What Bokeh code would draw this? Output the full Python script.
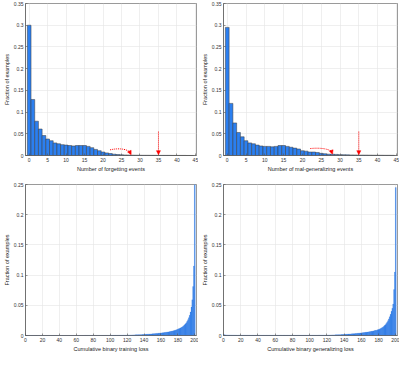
from bokeh.plotting import figure
from bokeh.layouts import gridplot
from bokeh.models import Arrow, NormalHead, FixedTicker, Range1d
from bokeh.embed import file_html
from bokeh.resources import INLINE

# ---------------- data ----------------
events = list(range(45))
forgetting = [0.300, 0.129, 0.079, 0.061, 0.046, 0.038, 0.034, 0.029, 0.027, 0.025,
              0.024, 0.023, 0.022, 0.023, 0.023, 0.023, 0.021, 0.018, 0.014, 0.011,
              0.008, 0.006, 0.0045, 0.003, 0.0022, 0.0016, 0.0012, 0.001, 0.0008, 0.0007,
              0.0006, 0.0005, 0.0005, 0.0004, 0.0004, 0.0004, 0.0003, 0.0003, 0.0003, 0.0002,
              0.0002, 0.0002, 0.0002, 0.0001, 0.0001]
malgen = [0.295, 0.120, 0.075, 0.053, 0.043, 0.034, 0.029, 0.027, 0.024, 0.022,
          0.021, 0.021, 0.020, 0.021, 0.023, 0.023, 0.021, 0.019, 0.017, 0.015,
          0.011, 0.010, 0.008, 0.008, 0.007, 0.005, 0.004, 0.003, 0.003, 0.0025,
          0.002, 0.0018, 0.0015, 0.0013, 0.0012, 0.001, 0.001, 0.0009, 0.0008, 0.0007,
          0.0006, 0.0006, 0.0005, 0.0005, 0.0004]

loss_bins = list(range(201))
train_loss = [
    0.0001, 0.0001, 0.0001, 0.0001, 0.0001, 0.0001, 0.0001, 0.0001, 0.0001, 0.0001,
    0.0001, 0.0001, 0.0001, 0.0001, 0.0001, 0.0001, 0.0001, 0.0001, 0.0001, 0.0001,
    0.0001, 0.0001, 0.0001, 0.0001, 0.0001, 0.0001, 0.0001, 0.0001, 0.0001, 0.0001,
    0.0001, 0.0001, 0.0001, 0.0001, 0.0001, 0.0001, 0.0001, 0.0001, 0.0001, 0.0001,
    0.0001, 0.0001, 0.0001, 0.0001, 0.0001, 0.0001, 0.0001, 0.0001, 0.0001, 0.0001,
    0.0001, 0.0001, 0.0001, 0.0001, 0.0001, 0.0001, 0.0001, 0.0001, 0.0001, 0.0001,
    0.0001, 0.0001, 0.0001, 0.0001, 0.0001, 0.0001, 0.0001, 0.0001, 0.0001, 0.0001,
    0.0002, 0.0002, 0.0002, 0.0002, 0.0002, 0.0002, 0.0002, 0.0002, 0.0002, 0.0002,
    0.0002, 0.0002, 0.0002, 0.0002, 0.0002, 0.0002, 0.0002, 0.0002, 0.0002, 0.0002,
    0.0002, 0.0002, 0.0002, 0.0002, 0.0002, 0.0002, 0.0002, 0.0002, 0.0002, 0.0002,
    0.0003, 0.0003, 0.0003, 0.0003, 0.0003, 0.0003, 0.0003, 0.0003, 0.0003, 0.0003,
    0.0004, 0.0004, 0.0004, 0.0004, 0.0004, 0.0005, 0.0005, 0.0005, 0.0005, 0.0005,
    0.0006, 0.0006, 0.0007, 0.0007, 0.0008, 0.0008, 0.0009, 0.0009, 0.0010, 0.0010,
    0.0011, 0.0011, 0.0012, 0.0012, 0.0013, 0.0013, 0.0014, 0.0014, 0.0015, 0.0016,
    0.0017, 0.0018, 0.0019, 0.0020, 0.0021, 0.0022, 0.0023, 0.0024, 0.0025, 0.0026,
    0.0027, 0.0028, 0.0030, 0.0031, 0.0032, 0.0034, 0.0035, 0.0037, 0.0038, 0.0040,
    0.0042, 0.0043, 0.0045, 0.0047, 0.0049, 0.0051, 0.0053, 0.0055, 0.0058, 0.0060,
    0.0063, 0.0066, 0.0069, 0.0072, 0.0076, 0.0080, 0.0084, 0.0088, 0.0093, 0.0098,
    0.0104, 0.0110, 0.0117, 0.0124, 0.0132, 0.0141, 0.0151, 0.0163, 0.0177, 0.0193,
    0.0212, 0.0235, 0.0262, 0.0295, 0.0335, 0.0390, 0.0470, 0.0590, 0.0810, 0.1150,
    0.2600]
gen_loss = [
    0.0015, 0.0012, 0.0010, 0.0009, 0.0008, 0.0008, 0.0007, 0.0007, 0.0006, 0.0006,
    0.0006, 0.0005, 0.0005, 0.0005, 0.0005, 0.0005, 0.0004, 0.0004, 0.0004, 0.0004,
    0.0004, 0.0004, 0.0004, 0.0004, 0.0004, 0.0004, 0.0004, 0.0004, 0.0004, 0.0004,
    0.0003, 0.0003, 0.0003, 0.0003, 0.0003, 0.0003, 0.0003, 0.0003, 0.0003, 0.0003,
    0.0003, 0.0003, 0.0003, 0.0003, 0.0003, 0.0003, 0.0003, 0.0003, 0.0003, 0.0003,
    0.0003, 0.0003, 0.0003, 0.0003, 0.0003, 0.0003, 0.0003, 0.0003, 0.0003, 0.0003,
    0.0003, 0.0003, 0.0003, 0.0003, 0.0003, 0.0003, 0.0003, 0.0003, 0.0003, 0.0003,
    0.0003, 0.0003, 0.0003, 0.0003, 0.0003, 0.0003, 0.0003, 0.0003, 0.0003, 0.0003,
    0.0003, 0.0003, 0.0003, 0.0003, 0.0003, 0.0003, 0.0003, 0.0003, 0.0003, 0.0003,
    0.0003, 0.0003, 0.0003, 0.0003, 0.0003, 0.0003, 0.0003, 0.0003, 0.0003, 0.0003,
    0.0004, 0.0004, 0.0004, 0.0004, 0.0004, 0.0004, 0.0004, 0.0004, 0.0004, 0.0004,
    0.0005, 0.0005, 0.0005, 0.0005, 0.0005, 0.0005, 0.0005, 0.0005, 0.0005, 0.0005,
    0.0006, 0.0006, 0.0007, 0.0007, 0.0008, 0.0008, 0.0009, 0.0009, 0.0010, 0.0010,
    0.0011, 0.0011, 0.0012, 0.0012, 0.0013, 0.0013, 0.0014, 0.0015, 0.0016, 0.0017,
    0.0018, 0.0019, 0.0020, 0.0021, 0.0022, 0.0023, 0.0024, 0.0025, 0.0026, 0.0027,
    0.0028, 0.0029, 0.0030, 0.0032, 0.0033, 0.0035, 0.0036, 0.0038, 0.0039, 0.0041,
    0.0043, 0.0044, 0.0046, 0.0048, 0.0050, 0.0052, 0.0054, 0.0056, 0.0058, 0.0061,
    0.0064, 0.0066, 0.0069, 0.0072, 0.0075, 0.0078, 0.0085, 0.0083, 0.0088, 0.0094,
    0.0100, 0.0105, 0.0112, 0.0120, 0.0128, 0.0138, 0.0150, 0.0165, 0.0180, 0.0200,
    0.0220, 0.0245, 0.0275, 0.0310, 0.0350, 0.0400, 0.0450, 0.0520, 0.0760, 0.1050,
    0.2450]

event_xticks = [0, 5, 10, 15, 20, 25, 30, 35, 40, 45]
event_yticks = [0, 0.05, 0.1, 0.15, 0.2, 0.25, 0.3, 0.35]
event_ylabels = ["0", "0.05", "0.1", "0.15", "0.2", "0.25", "0.3", "0.35"]
loss_xticks = [0, 20, 40, 60, 80, 100, 120, 140, 160, 180, 200]
loss_yticks = [0, 0.05, 0.1, 0.15, 0.2, 0.25]
loss_ylabels = ["0", "0.05", "0.1", "0.15", "0.2", "0.25"]

# annotation arrows (curved then vertical), per top panel
curve_forget = dict(x0=21.9, y0=0.013, cx0=25.0, cy0=0.019, cx1=27.0, cy1=0.012, x1=27.3, y1=0.007)
curve_malgen = dict(x0=22.1, y0=0.016, cx0=25.5, cy0=0.019, cx1=27.5, cy1=0.013, x1=27.8, y1=0.008)
head_end = {"forget": (27.6, 0.002), "malgen": (28.0, 0.003)}
vert_arrow = dict(x=35, y_top=0.055, y_bottom=0.002)

BLUE = "#2b7ff0"
FONT = "Liberation Sans"


def style(p, xticks, yticks, ylabels, xlabel):
    p.xaxis.ticker = FixedTicker(ticks=xticks)
    p.yaxis.ticker = FixedTicker(ticks=yticks)
    p.yaxis.major_label_overrides = {t: l for t, l in zip(yticks, ylabels)}
    p.xaxis.axis_label = xlabel
    p.yaxis.axis_label = "Fraction of examples"
    for ax in (p.xaxis[0], p.yaxis[0]):
        ax.axis_label_text_font = FONT
        ax.axis_label_text_font_size = "5.5px"
        ax.axis_label_text_font_style = "normal"
        ax.axis_label_text_color = "#222222"
        ax.axis_label_standoff = 1
        ax.major_label_text_font = FONT
        ax.major_label_text_font_size = "5px"
        ax.major_label_text_color = "#333333"
        ax.major_label_standoff = 2
        ax.major_tick_in = 2
        ax.major_tick_out = 0
        ax.minor_tick_line_color = None
        ax.axis_line_color = "#555555"
        ax.major_tick_line_color = "#555555"
        ax.axis_line_width = 0.6
        ax.major_tick_line_width = 0.6
    p.grid.grid_line_color = "#e4e4e4"
    p.grid.grid_line_width = 0.6
    p.outline_line_color = "#555555"
    p.outline_line_width = 0.6
    p.background_fill_color = "white"
    p.border_fill_color = "white"


def make_fig(w, h, xr, yr, bt, bb, bl, br):
    return figure(width=w, height=h, x_range=Range1d(*xr), y_range=Range1d(*yr),
                  output_backend="svg", toolbar_location=None,
                  min_border_left=bl, min_border_right=br,
                  min_border_top=bt, min_border_bottom=bb)


def add_arrows(p, c, head, v):
    p.bezier(x0=[c["x0"]], y0=[c["y0"]], x1=[c["x1"]], y1=[c["y1"]],
             cx0=[c["cx0"]], cy0=[c["cy0"]], cx1=[c["cx1"]], cy1=[c["cy1"]],
             line_color="#ff0000", line_dash="1 1", line_width=1)
    p.add_layout(Arrow(end=NormalHead(size=4, fill_color="#ff0000", line_color="#ff0000", line_width=0.5),
                       x_start=c["x1"], y_start=c["y1"], x_end=head[0], y_end=head[1],
                       line_color="#ff0000", line_dash="1 1", line_width=1))
    p.add_layout(Arrow(end=NormalHead(size=4, fill_color="#ff0000", line_color="#ff0000", line_width=0.5),
                       x_start=v["x"], y_start=v["y_top"], x_end=v["x"], y_end=v["y_bottom"],
                       line_color="#ff0000", line_dash="1 1", line_width=1))


LW, RW = 198, 201
H1, H2 = 174, 180

p1 = make_fig(LW, H1, (-1, 45.3), (0, 0.35), 3, 0, 0, 2)
p1.vbar(x=events, top=forgetting, width=1, fill_color=BLUE, line_color="#3a3a3a", line_width=0.5)
style(p1, event_xticks, event_yticks, event_ylabels, "Number of forgetting events")
add_arrows(p1, curve_forget, head_end["forget"], vert_arrow)

p2 = make_fig(RW, H1, (-1, 45.3), (0, 0.35), 3, 0, 0, 2)
p2.vbar(x=events, top=malgen, width=1, fill_color=BLUE, line_color="#3a3a3a", line_width=0.5)
style(p2, event_xticks, event_yticks, event_ylabels, "Number of mal-generalizing events")
add_arrows(p2, curve_malgen, head_end["malgen"], vert_arrow)

p3 = make_fig(LW, H2, (0, 202), (0, 0.25), 10, 0, 0, 2)
p3.vbar(x=loss_bins, top=train_loss, width=1, fill_color=BLUE, line_color="#1f66d0", line_width=0.2)
style(p3, loss_xticks, loss_yticks, loss_ylabels, "Cumulative binary training loss")

p4 = make_fig(RW, H2, (0, 202), (0, 0.25), 10, 0, 0, 2)
p4.vbar(x=loss_bins, top=gen_loss, width=1, fill_color=BLUE, line_color="#1f66d0", line_width=0.2)
style(p4, loss_xticks, loss_yticks, loss_ylabels, "Cumulative binary generalizing loss")

grid = gridplot([[p1, p2], [p3, p4]], toolbar_location=None)

open("out.html", "w").write(file_html(grid, INLINE))
